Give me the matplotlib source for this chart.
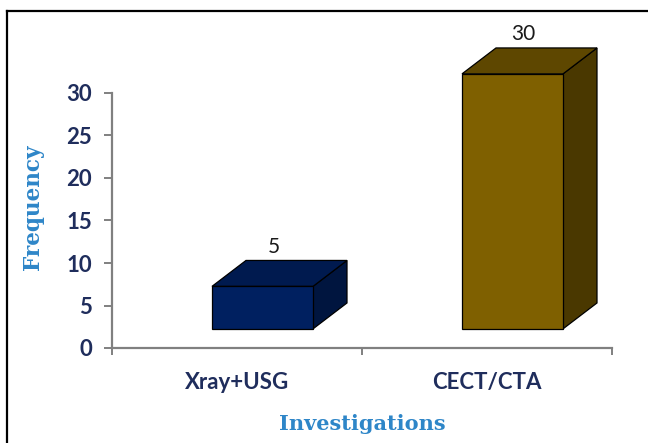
import matplotlib
matplotlib.use("Agg")
import matplotlib.pyplot as plt
from matplotlib.patches import Polygon
from matplotlib.lines import Line2D

categories = ["Xray+USG", "CECT/CTA"]
values = [5, 30]
y_ticks = [0, 5, 10, 15, 20, 25, 30]

FRONT = ["#002060", "#7F6000"]
TOP = ["#001A4F", "#5E4700"]
SIDE = ["#00153F", "#4A3800"]
TICK_COLOR = "#1F2D5C"
TITLE_COLOR = "#2E86C8"
AXIS_COLOR = "#808080"

# 3D geometry in data units
BASE = 2.25        # floor offset of the front face
OFFSET = 0.4       # front-left edge relative to category start
WIDTH = 0.404
DX = 0.136         # depth shift to the right
DY = 3.05          # depth shift upwards

fig = plt.figure(figsize=(6.48, 4.43), dpi=100)
ax = fig.add_axes([112 / 648, 95 / 443, 500 / 648, 306 / 443])
ax.set_xlim(0, 2)
ax.set_ylim(0, 36)

for i, v in enumerate(values):
    x0 = i + OFFSET
    x1 = x0 + WIDTH
    y0 = BASE
    y1 = BASE + v
    front = [(x0, y0), (x1, y0), (x1, y1), (x0, y1)]
    top = [(x0, y1), (x1, y1), (x1 + DX, y1 + DY), (x0 + DX, y1 + DY)]
    side = [(x1, y0), (x1 + DX, y0 + DY), (x1 + DX, y1 + DY), (x1, y1)]
    for pts, col in ((side, SIDE[i]), (top, TOP[i]), (front, FRONT[i])):
        ax.add_patch(Polygon(pts, closed=True, facecolor=col, edgecolor="black",
                             linewidth=0.9, clip_on=False, zorder=3))
    ax.text(x0 + WIDTH / 2 + DX * 0.33, y1 + DY + 0.45, str(v), ha="center",
            va="bottom", fontsize=15, color="#1a1a1a", family="Lato", zorder=4)

for s in ("top", "right"):
    ax.spines[s].set_visible(False)
for s in ("left", "bottom"):
    ax.spines[s].set_color(AXIS_COLOR)
    ax.spines[s].set_linewidth(1.6)
ax.spines["left"].set_bounds(0, 30)

ax.set_yticks(y_ticks)
ax.set_yticklabels([str(t) for t in y_ticks])
ax.tick_params(axis="y", direction="out", length=5.5, width=1.4, color=AXIS_COLOR,
               pad=9, labelsize=16, labelcolor=TICK_COLOR)

ax.set_xticks([0, 1, 2])
ax.set_xticklabels(["", "", ""])
ax.set_xticks([0.5, 1.5], minor=True)
ax.set_xticklabels(categories, minor=True)
ax.tick_params(axis="x", which="major", direction="out", length=5, width=1.4,
               color=AXIS_COLOR)
ax.tick_params(axis="x", which="minor", length=0, pad=17, labelsize=16,
               labelcolor=TICK_COLOR)

for lab in ax.get_yticklabels() + ax.get_xticklabels(minor=True):
    lab.set_family("Lato")
    lab.set_fontweight("bold")

fig.text(362 / 648, 1 - 424 / 443, "Investigations", ha="center", va="center",
         fontsize=15, fontweight="bold", color=TITLE_COLOR, family="DejaVu Serif")
fig.text(33 / 648, 1 - 207 / 443, "Frequency", ha="center", va="center",
         rotation=90, fontsize=15.5, fontweight="bold", color=TITLE_COLOR,
         family="DejaVu Serif")

# outer frame (top and left edges visible)
fig.add_artist(Line2D([7 / 648, 1.0], [1 - 11 / 443, 1 - 11 / 443],
                      color="black", linewidth=1.6, transform=fig.transFigure))
fig.add_artist(Line2D([7 / 648, 7 / 648], [0.0, 1 - 11 / 443],
                      color="black", linewidth=1.6, transform=fig.transFigure))

fig.savefig("out.png", dpi=100)
